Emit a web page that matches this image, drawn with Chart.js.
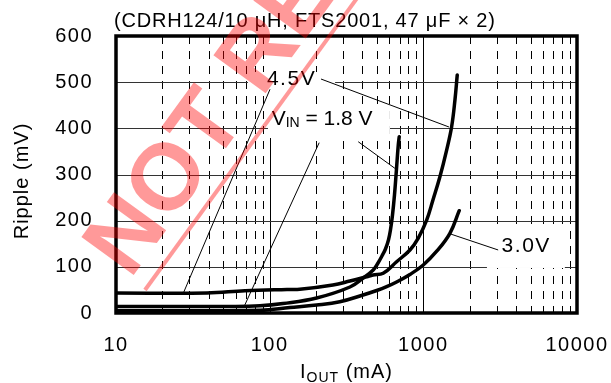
<!DOCTYPE html>
<html><head><meta charset="utf-8">
<script src="https://cdn.jsdelivr.net/npm/chart.js@4/dist/chart.umd.min.js"></script>
<style>html,body{margin:0;padding:0;background:#fff;overflow:hidden}</style>
</head><body>
<canvas id="c" width="611" height="383"></canvas>
<script>
// ---- data ----
const xTicks = [10, 100, 1000, 10000];
const yTicks = [0, 100, 200, 300, 400, 500, 600];

const cur18 = [10, 59.5, 86.5, 122, 202, 333, 406, 472, 507, 538, 567, 593, 611, 630, 649, 668, 687, 697];
const rip18 = [14, 14, 15.5, 20.5, 32.5, 56.3, 75.8, 93.1, 108.3, 123.5, 138.6, 158.1, 179.8, 212.3, 255.6, 309.7, 363.9, 382];

const cur30 = [10, 86.5, 135.5, 202, 286, 405, 497, 577, 670, 818, 999, 1226, 1489, 1712];
const rip30 = [5, 6, 11.9, 17.3, 24.5, 39, 48.7, 57, 67.1, 83.4, 104, 134.3, 172.6, 221.6];

const cur45 = [10, 39.1, 69, 129.6, 157, 258, 333, 428, 470, 548, 670, 818, 927, 1051, 1155, 1282, 1418, 1528, 1606, 1662];
const rip45 = [43.3, 43.3, 48.3, 50.9, 51.3, 60.6, 69.3, 78.6, 82.3, 86, 111, 136.5, 162.4, 201.2, 244.7, 295, 353, 403.5, 461.3, 515.5];

// leader lines (label -> curve)
const lead45X = [215.8, 1468], lead45Y = [506.8, 402.9];
const lead18X = [377, 653],    lead18Y = [371, 313.4];
const lead30X = [1507, 3069],  lead30Y = [171, 136.5];
// thin straight lines crossing the left part of the plot
const thinAX = [27.4, 100.5], thinAY = [42.7, 484.5];
const thinBX = [68.1, 210],   thinBY = [13.6, 368.9];

const titleText = '(CDRH124/10 \u03bcH, FTS2001, 47 \u03bcF \u00d7 2)';
const labels = [
  { parts: [['4.5V', 0]], at: [96, 507], sp: 1.5 },
  { parts: [['V', 0], ['IN', 1], [' = 1.8 V', 0]], at: [103, 420], sp: 0 },
  { parts: [['3.0V', 0]], at: [3232, 145], sp: 1.5 }
];
// ---------------

const FONT = "'Liberation Sans', Arial, Helvetica, sans-serif";
const pts = (xs, ys) => xs.map((v, i) => ({ x: v, y: ys[i] }));

function curve(xs, ys) {
  return { data: pts(xs, ys), showLine: true, borderColor: '#000', borderWidth: 3.5,
    pointRadius: 0, tension: 0.4, borderCapStyle: 'round', borderJoinStyle: 'round', fill: false };
}
function thin(xs, ys) {
  return { data: pts(xs, ys), showLine: true, borderColor: '#000', borderWidth: 1, pointRadius: 0, fill: false };
}

function drawParts(ctx, parts, x, y, size, spacing) {
  let cx = x;
  for (const [t, sub] of parts) {
    ctx.font = (sub ? Math.round(size * 0.68) : size) + 'px ' + FONT;
    ctx.letterSpacing = spacing + 'px';
    ctx.fillText(t, cx, y + (sub ? size * 0.2 : 0));
    cx += ctx.measureText(t).width;
  }
  return cx - x;
}
function partsWidth(ctx, parts, size, spacing) {
  let w = 0;
  for (const [t, sub] of parts) {
    ctx.font = (sub ? Math.round(size * 0.68) : size) + 'px ' + FONT;
    ctx.letterSpacing = spacing + 'px';
    w += ctx.measureText(t).width;
  }
  return w;
}

const decor = {
  id: 'decor',
  beforeDraw(chart) { chart.ctx.letterSpacing = '1.5px'; },
  beforeDatasetsDraw(chart) {
    const { ctx, chartArea: a, scales: { x, y } } = chart;
    ctx.save();
    ctx.beginPath(); ctx.rect(a.left, a.top, a.right - a.left, a.bottom - a.top); ctx.clip();
    ctx.strokeStyle = '#000'; ctx.lineWidth = 1;
    ctx.setLineDash([8, 7]);
    for (let d = 10; d < 10000; d *= 10) for (let m = 2; m <= 9; m++) {
      const px = Math.round(x.getPixelForValue(d * m)) + 0.5;
      ctx.beginPath(); ctx.moveTo(px, a.top); ctx.lineTo(px, a.bottom); ctx.stroke();
    }
    ctx.setLineDash([]);
    for (const v of [100, 1000]) {
      const px = Math.round(x.getPixelForValue(v)) + 0.5;
      ctx.beginPath(); ctx.moveTo(px, a.top); ctx.lineTo(px, a.bottom); ctx.stroke();
    }
    ctx.strokeStyle = '#333';
    for (const v of yTicks) {
      if (v <= 0 || v >= 600) continue;
      const py = Math.round(y.getPixelForValue(v)) + 0.5;
      ctx.beginPath(); ctx.moveTo(a.left, py); ctx.lineTo(a.right, py); ctx.stroke();
    }
    // white boxes behind the labels (value space)
    ctx.fillStyle = '#fff';
    const boxes = [[72.3, 266.5, 476.5, 522], [97.5, 606, 379, 452.7], [94.5, 106.5, 452, 600], [2594, 8337, 97.5, 186]];
    for (const b of boxes) {
      const x0 = x.getPixelForValue(b[0]), x1 = x.getPixelForValue(b[1]);
      const y0 = y.getPixelForValue(b[3]), y1 = y.getPixelForValue(b[2]);
      ctx.fillRect(x0, y0, x1 - x0, y1 - y0);
    }
    ctx.restore();
    // labels
    ctx.save();
    ctx.fillStyle = '#000'; ctx.textBaseline = 'middle'; ctx.textAlign = 'left';
    for (const l of labels) {
      drawParts(ctx, l.parts, x.getPixelForValue(l.at[0]), y.getPixelForValue(l.at[1]), 21, l.sp);
    }
    ctx.restore();
  },
  afterDatasetsDraw(chart) {
    const { ctx, chartArea: a } = chart;
    ctx.save();
    ctx.strokeStyle = '#000'; ctx.lineWidth = 3.5;
    ctx.strokeRect(a.left, a.top, a.right - a.left, a.bottom - a.top);
    ctx.restore();
  },
  afterDraw(chart) {
    const { ctx, chartArea: a } = chart;
    ctx.save();
    ctx.fillStyle = '#000';
    ctx.textBaseline = 'alphabetic'; ctx.textAlign = 'left';
    ctx.font = '20px ' + FONT; ctx.letterSpacing = '0.8px';
    ctx.fillText(titleText, 114, 27);
    // x axis title
    const xp = [['I', 0], ['OUT', 1], [' (mA)', 0]];
    const w = partsWidth(ctx, xp, 20, 1);
    drawParts(ctx, xp, (a.left + a.right) / 2 - w / 2, 378, 20, 1);
    // y axis title
    ctx.translate(22, 181); ctx.rotate(-Math.PI / 2);
    ctx.textAlign = 'center'; ctx.textBaseline = 'middle';
    ctx.font = '20px ' + FONT; ctx.letterSpacing = '1px';
    ctx.fillText('Ripple (mV)', 0, 0);
    ctx.restore();
    // watermark stamp
    ctx.save();
    ctx.translate(130, 280); ctx.rotate(-54 * Math.PI / 180);
    ctx.fillStyle = 'rgba(255,0,0,0.4)';
    ctx.font = 'bold 94px ' + FONT; ctx.letterSpacing = '0px';
    ctx.textBaseline = 'alphabetic'; ctx.textAlign = 'left';
    ctx.fillText('NOT RECOMMENDED FOR NEW DESIGN', 0, 0);
    ctx.restore();
    ctx.save();
    ctx.translate(145, 290); ctx.rotate(-54 * Math.PI / 180);
    ctx.fillStyle = 'rgba(255,0,0,0.4)';
    ctx.fillRect(0, -2, 900, 4);
    ctx.restore();
  }
};

new Chart(document.getElementById('c'), {
  type: 'scatter',
  data: { datasets: [
    thin(thinAX, thinAY), thin(thinBX, thinBY),
    thin(lead45X, lead45Y), thin(lead18X, lead18Y), thin(lead30X, lead30Y),
    curve(cur30, rip30), curve(cur45, rip45), curve(cur18, rip18)
  ] },
  options: {
    responsive: false, animation: false, devicePixelRatio: 1,
    layout: { padding: { left: 0, right: 34, top: 36, bottom: 0 } },
    plugins: { legend: { display: false }, tooltip: { enabled: false }, title: { display: false } },
    scales: {
      x: {
        type: 'logarithmic', min: 10, max: 10000,
        grid: { display: false, drawTicks: false }, border: { display: false },
        afterBuildTicks: s => { s.ticks = xTicks.map(v => ({ value: v })); },
        afterFit: s => { s.height = 70; s.paddingLeft = 0; s.paddingRight = 0; },
        ticks: { color: '#000', font: { family: FONT, size: 20 }, padding: 20, maxRotation: 0, autoSkip: false,
          callback: v => String(v) }
      },
      y: {
        min: 0, max: 600,
        grid: { display: false, drawTicks: false }, border: { display: false },
        afterBuildTicks: s => { s.ticks = yTicks.map(v => ({ value: v })); },
        afterFit: s => { s.width = 116; s.paddingTop = 0; s.paddingBottom = 0; },
        ticks: { color: '#000', font: { family: FONT, size: 20 }, padding: 23 }
      }
    }
  },
  plugins: [decor]
});
</script>
</body></html>
